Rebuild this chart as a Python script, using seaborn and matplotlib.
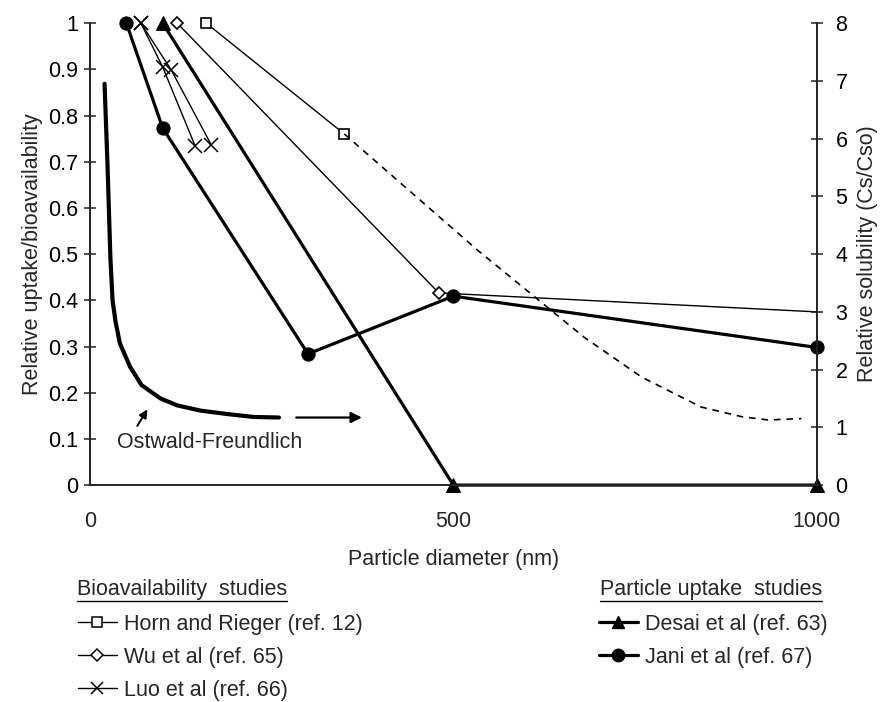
import numpy as np
import matplotlib
matplotlib.use("Agg")
import matplotlib.pyplot as plt
from matplotlib.lines import Line2D
import seaborn as sns

# ---------------------------
# DATA
# ---------------------------
horn_x = [160, 350]
horn_y = [1.0, 0.76]
horn_ext_x = [350, 533, 680, 759, 841, 897, 933, 979]
horn_ext_y = [0.76, 0.509, 0.32, 0.234, 0.169, 0.148, 0.141, 0.144]

wu_x = [120, 480, 1000]
wu_y = [1.0, 0.416, 0.375]

luo_a_x = [70, 100, 145]
luo_a_y = [1.0, 0.905, 0.733]
luo_b_x = [70, 112, 167]
luo_b_y = [1.0, 0.898, 0.736]

desai_x = [100, 500, 1000]
desai_y = [1.0, 0.0, 0.0]

jani_x = [50, 100, 300, 500, 1000]
jani_y = [1.0, 0.773, 0.284, 0.409, 0.298]

# Ostwald-Freundlich curve, relative solubility (right axis)
ostwald_x = [20, 24, 28, 31, 35, 41, 55, 71, 97, 120, 152, 189, 225, 260]
ostwald_s = [6.95, 5.57, 3.95, 3.2, 2.84, 2.46, 2.05, 1.73, 1.50, 1.38, 1.29, 1.23, 1.18, 1.17]

left_ticks = [0, 0.1, 0.2, 0.3, 0.4, 0.5, 0.6, 0.7, 0.8, 0.9, 1.0]
left_labels = ["0", "0.1", "0.2", "0.3", "0.4", "0.5", "0.6", "0.7", "0.8", "0.9", "1"]
right_ticks = [0, 1, 2, 3, 4, 5, 6, 7, 8]
x_ticks = [0, 500, 1000]

# ---------------------------
# STYLE
# ---------------------------
sns.set_style("ticks")
plt.rcParams["font.family"] = ["Liberation Sans", "DejaVu Sans"]
FS = 15.5

fig = plt.figure(figsize=(8.8, 7.02), dpi=100)
ax = fig.add_axes([0.1023, 0.309, 0.8257, 0.658])
ax2 = ax.twinx()

k = "black"
sns.lineplot(x=horn_x, y=horn_y, ax=ax, color=k, lw=1.0, marker="s", markersize=7,
             markerfacecolor="white", markeredgecolor=k, markeredgewidth=1.2, sort=False, clip_on=False)
sns.lineplot(x=horn_ext_x, y=horn_ext_y, ax=ax, color=k, lw=1.2, linestyle=(0, (4, 3.5)), sort=False)
sns.lineplot(x=wu_x, y=wu_y, ax=ax, color=k, lw=1.0, marker="D", markersize=6.5, markevery=[0, 1],
             markerfacecolor="white", markeredgecolor=k, markeredgewidth=1.2, sort=False, clip_on=False)
sns.lineplot(x=luo_a_x, y=luo_a_y, ax=ax, color=k, lw=1.0, marker="x", markersize=10,
             markeredgecolor=k, markeredgewidth=1.1, sort=False, clip_on=False)
sns.lineplot(x=luo_b_x, y=luo_b_y, ax=ax, color=k, lw=1.0, marker="x", markersize=10,
             markeredgecolor=k, markeredgewidth=1.1, sort=False, clip_on=False)
sns.lineplot(x=desai_x, y=desai_y, ax=ax, color=k, lw=2.3, marker="^", markersize=9.5,
             markeredgecolor=k, sort=False, clip_on=False)
sns.lineplot(x=jani_x, y=jani_y, ax=ax, color=k, lw=2.3, marker="o", markersize=9.5,
             markeredgecolor=k, sort=False, clip_on=False)
sns.lineplot(x=ostwald_x, y=ostwald_s, ax=ax2, color=k, lw=3.0, sort=False)

# arrows and label for Ostwald-Freundlich
ax2.annotate("", xy=(378, ostwald_s[-1]), xytext=(280, ostwald_s[-1]),
             arrowprops=dict(arrowstyle="-|>", color=k, lw=1.6, mutation_scale=16))
ax.annotate("", xy=(81, 0.169), xytext=(63, 0.123),
            arrowprops=dict(arrowstyle="-|>", color=k, lw=1.4, mutation_scale=12))
ax.text(37, 0.092, "Ostwald-Freundlich", fontsize=FS, va="center", ha="left")

# ---------------------------
# AXES
# ---------------------------
ax.set_xlim(0, 1000)
ax.set_ylim(0, 1)
ax2.set_ylim(0, 8)
ax.set_xticks(x_ticks)
ax.set_xticklabels([str(v) for v in x_ticks], fontsize=FS)
ax.set_yticks(left_ticks)
ax.set_yticklabels(left_labels, fontsize=FS)
ax2.set_yticks(right_ticks)
ax2.set_yticklabels([str(v) for v in right_ticks], fontsize=FS)
ax.tick_params(axis="x", length=0, pad=19)
ax.tick_params(axis="y", direction="inout", length=9, width=1.1, pad=4, colors="#222222", labelcolor="black")
ax2.tick_params(axis="y", direction="inout", length=9, width=1.1, pad=9, colors="#222222", labelcolor="black")

for a in (ax, ax2):
    a.spines["top"].set_visible(False)
    for s in ("left", "right", "bottom"):
        a.spines[s].set_linewidth(1.2)
        a.spines[s].set_color("#222222")

ax.set_xlabel("Particle diameter (nm)", fontsize=FS, labelpad=12)
ax.set_ylabel("Relative uptake/bioavailability", fontsize=FS, labelpad=4)
ax2.set_ylabel("Relative solubility (Cs/Cso)", fontsize=FS, labelpad=7)

# ---------------------------
# LEGENDS
# ---------------------------
h_bio = [
    Line2D([], [], color=k, lw=1.0, marker="s", markersize=7, markerfacecolor="white", markeredgewidth=1.1),
    Line2D([], [], color=k, lw=1.0, marker="D", markersize=6.5, markerfacecolor="white", markeredgewidth=1.1),
    Line2D([], [], color=k, lw=1.0, marker="x", markersize=9, markeredgewidth=1.1),
]
h_upt = [
    Line2D([], [], color=k, lw=2.3, marker="^", markersize=9),
    Line2D([], [], color=k, lw=2.3, marker="o", markersize=9),
]
leg_kw = dict(frameon=False, fontsize=FS, loc="upper left", borderpad=0, borderaxespad=0,
              handlelength=1.8, handletextpad=0.35, labelspacing=0.55)
fig.legend(h_bio, ["Horn and Rieger (ref. 12)", "Wu et al (ref. 65)", "Luo et al (ref. 66)"],
           bbox_to_anchor=(78 / 880, 1 - 614 / 702), **leg_kw)
fig.legend(h_upt, ["Desai et al (ref. 63)", "Jani et al (ref. 67)"],
           bbox_to_anchor=(599 / 880, 1 - 614 / 702), **leg_kw)

t1 = fig.text(77 / 880, 1 - 590 / 702, "Bioavailability  studies", fontsize=FS, va="center", ha="left")
t2 = fig.text(600 / 880, 1 - 590 / 702, "Particle uptake  studies", fontsize=FS, va="center", ha="left")

fig.canvas.draw()
inv = fig.transFigure.inverted()
for t in (t1, t2):
    bb = t.get_window_extent().transformed(inv)
    fig.add_artist(Line2D([bb.x0, bb.x1], [bb.y0 - 0.001, bb.y0 - 0.001], color=k, lw=1.0,
                          transform=fig.transFigure))

fig.savefig("out.png", dpi=100)
